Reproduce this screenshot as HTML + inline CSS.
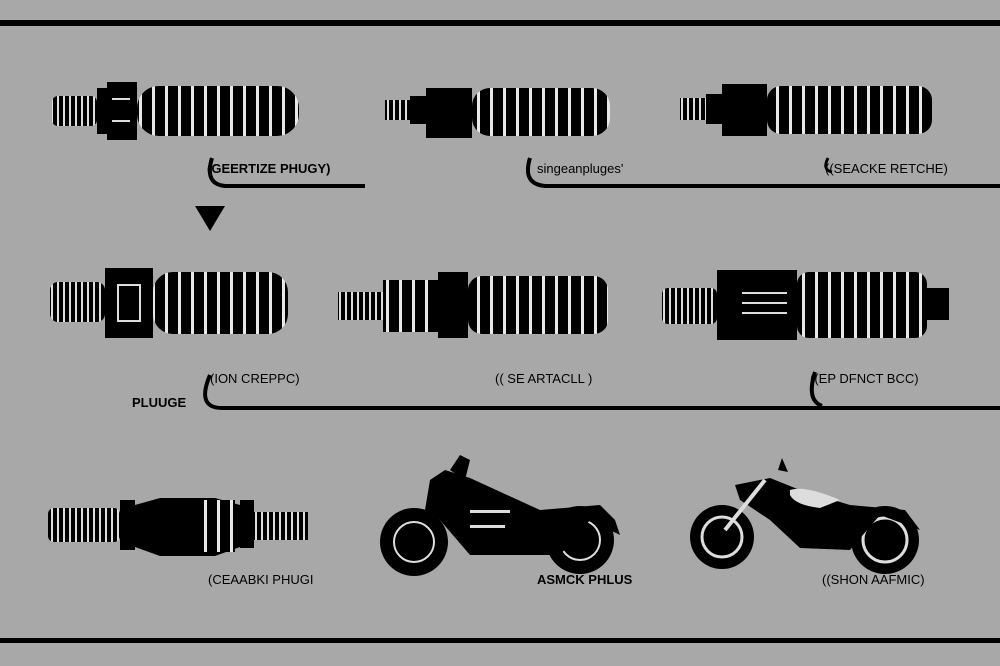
<!DOCTYPE html>
<html><head><meta charset="utf-8"><style>
html,body{margin:0;padding:0;background:#a8a8a8;}
svg{display:block}
text{font-family:"Liberation Sans",sans-serif;font-size:13px;fill:#000;}
</style></head><body>
<svg width="1000" height="666" viewBox="0 0 1000 666" xmlns="http://www.w3.org/2000/svg">
<defs>
<pattern id="rib" width="13" height="10" patternUnits="userSpaceOnUse"><rect width="13" height="10" fill="#000"/><rect x="9" width="3" height="10" fill="#e8e8e8"/></pattern>
<pattern id="thr" width="6" height="10" patternUnits="userSpaceOnUse"><rect width="6" height="10" fill="#000"/><rect x="3" width="2" height="10" fill="#ddd"/></pattern>
</defs>
<rect width="1000" height="666" fill="#a8a8a8"/>
<rect x="0" y="20" width="1000" height="6" fill="#000"/>
<rect x="0" y="638" width="1000" height="5" fill="#000"/>

<!-- row1 plug1 -->
<rect x="52" y="96" width="45" height="30" rx="6" fill="url(#thr)"/>
<rect x="97" y="88" width="10" height="46" fill="#000"/>
<rect x="107" y="82" width="30" height="58" fill="#000"/>
<rect x="112" y="98" width="18" height="2" fill="#ddd"/><rect x="112" y="120" width="18" height="2" fill="#ddd"/>
<rect x="137" y="86" width="162" height="50" rx="22" fill="url(#rib)"/>
<!-- row1 plug2 -->
<rect x="385" y="100" width="25" height="20" fill="url(#thr)"/>
<rect x="410" y="96" width="16" height="28" fill="#000"/>
<rect x="426" y="88" width="46" height="50" fill="#000"/>
<rect x="472" y="88" width="138" height="48" rx="18" fill="url(#rib)"/>
<!-- row1 plug3 -->
<rect x="680" y="98" width="26" height="22" fill="url(#thr)"/>
<rect x="706" y="94" width="16" height="30" fill="#000"/>
<rect x="722" y="84" width="45" height="52" fill="#000"/>
<rect x="767" y="86" width="165" height="48" rx="14" fill="url(#rib)"/>

<path d="M212 158 Q204 184 225 186 L365 186" stroke="#000" stroke-width="4" fill="none"/>
<path d="M530 158 Q522 184 545 186 L1000 186" stroke="#000" stroke-width="4" fill="none"/>
<path d="M828 158 Q822 170 832 172" stroke="#000" stroke-width="3" fill="none"/>
<text x="207" y="173" font-weight="bold">(GEERTIZE PHUGY)</text>
<text x="537" y="173">singeanpluges'</text>
<text x="825" y="173">((SEACKE RETCHE)</text>
<polygon points="195,206 225,206 210,231" fill="#000"/>

<!-- row2 -->
<rect x="50" y="282" width="55" height="40" rx="8" fill="url(#thr)"/>
<rect x="105" y="268" width="48" height="70" fill="#000"/>
<rect x="118" y="285" width="22" height="36" fill="none" stroke="#ddd" stroke-width="2"/>
<rect x="153" y="272" width="135" height="62" rx="20" fill="url(#rib)"/>

<rect x="338" y="292" width="45" height="28" fill="url(#thr)"/>
<rect x="383" y="280" width="55" height="52" fill="url(#rib)"/>
<rect x="438" y="272" width="30" height="66" fill="#000"/>
<rect x="468" y="276" width="140" height="58" rx="14" fill="url(#rib)"/>

<rect x="662" y="288" width="55" height="36" rx="6" fill="url(#thr)"/>
<rect x="717" y="270" width="80" height="70" fill="#000"/>
<rect x="742" y="292" width="45" height="2" fill="#ddd"/><rect x="742" y="302" width="45" height="2" fill="#ddd"/><rect x="742" y="312" width="45" height="2" fill="#ddd"/>
<rect x="797" y="272" width="130" height="66" rx="12" fill="url(#rib)"/>
<rect x="927" y="288" width="22" height="32" fill="#000"/>

<text x="210" y="383">(ION CREPPC)</text>
<text x="495" y="383">(( SE ARTACLL )</text>
<text x="810" y="383">((EP DFNCT BCC)</text>
<text x="132" y="407" font-weight="bold">PLUUGE</text>
<path d="M210 375 Q196 408 222 408 L1000 408" stroke="#000" stroke-width="4" fill="none"/>
<path d="M815 372 Q806 400 822 406" stroke="#000" stroke-width="4" fill="none"/>

<!-- row3 plug -->
<rect x="48" y="508" width="72" height="34" rx="6" fill="url(#thr)"/>
<rect x="120" y="500" width="15" height="50" fill="#000"/>
<path d="M135 505 L160 498 L215 498 L240 505 L240 547 L215 556 L160 556 L135 547Z" fill="#000"/>
<rect x="195" y="500" width="40" height="52" fill="url(#rib)"/>
<rect x="240" y="500" width="14" height="48" fill="#000"/>
<rect x="254" y="512" width="54" height="28" fill="url(#thr)"/>
<text x="208" y="584">(CEAABKI PHUGI</text>

<!-- motorcycle 1 -->
<circle cx="414" cy="542" r="34" fill="#000"/><circle cx="414" cy="542" r="20" fill="none" stroke="#ddd" stroke-width="2"/>
<circle cx="580" cy="540" r="34" fill="#000"/><circle cx="580" cy="540" r="20" fill="none" stroke="#ddd" stroke-width="2"/>
<path d="M430 480 L445 470 L470 478 L540 510 L600 505 L615 520 L620 535 L590 520 L560 555 L470 555 L440 520 L425 510Z" fill="#000"/>
<path d="M450 470 L460 455 L470 460 L465 480Z" fill="#000"/>
<rect x="470" y="510" width="40" height="3" fill="#ddd"/><rect x="470" y="525" width="35" height="3" fill="#ddd"/>
<text x="537" y="584" font-weight="bold">ASMCK PHLUS</text>

<!-- motorcycle 2 -->
<circle cx="722" cy="537" r="32" fill="#000"/><circle cx="722" cy="537" r="20" fill="none" stroke="#ddd" stroke-width="3"/><circle cx="722" cy="537" r="14" fill="#000"/>
<circle cx="885" cy="540" r="34" fill="#000"/><circle cx="885" cy="540" r="22" fill="none" stroke="#ddd" stroke-width="3"/>
<path d="M735 485 L770 478 L800 490 L850 505 L905 510 L920 530 L880 515 L850 550 L800 548 L770 520 L740 500Z" fill="#000"/>
<path d="M725 530 L765 480" stroke="#ddd" stroke-width="4"/>
<path d="M778 470 L782 458 L788 472Z" fill="#000"/>
<path d="M790 490 Q805 485 840 500 L820 508 Q795 505 790 495Z" fill="#ddd"/>
<text x="822" y="584">((SHON AAFMIC)</text>
</svg>
</body></html>
